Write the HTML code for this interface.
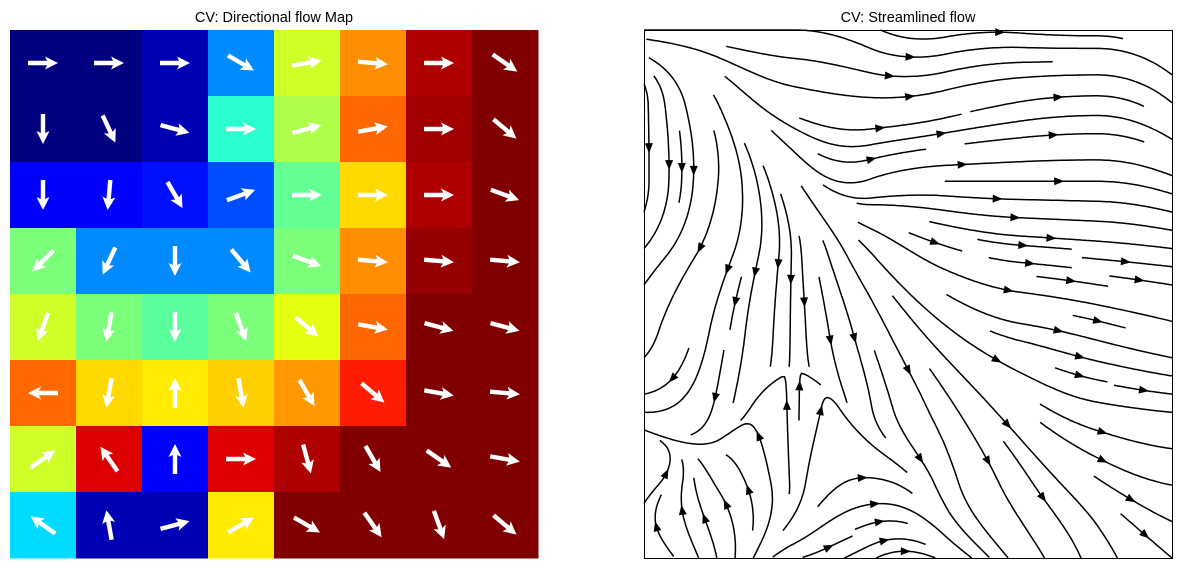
<!DOCTYPE html>
<html><head><meta charset="utf-8"><style>
body{margin:0;background:#fff;width:1182px;height:573px;overflow:hidden;font-family:"Liberation Sans",sans-serif}
svg{position:absolute;left:0;top:0}
</style></head><body>
<svg id="chart" width="1182" height="573">
<text x="274" y="22" text-anchor="middle" font-size="14.5" font-family="Liberation Sans, sans-serif">CV: Directional flow Map</text>
<text x="908" y="22" text-anchor="middle" font-size="14.5" font-family="Liberation Sans, sans-serif">CV: Streamlined flow</text>
<g id="heat"></g>
<g id="stream"></g>
<rect x="644.5" y="30.5" width="528" height="528" fill="none" stroke="#000" stroke-width="1"/>
</svg>
<script>
// cell magnitude values (matplotlib jet 0..1), rows top to bottom
const magnitudes = [
 [0.00,0.00,0.045,0.26,0.60,0.76,0.96,1.00],
 [0.00,0.00,0.045,0.40,0.56,0.80,0.97,1.00],
 [0.11,0.11,0.14,0.20,0.47,0.68,0.96,1.00],
 [0.50,0.26,0.26,0.26,0.50,0.76,0.98,1.00],
 [0.60,0.50,0.46,0.50,0.63,0.80,1.00,1.00],
 [0.80,0.68,0.66,0.69,0.75,0.88,1.00,1.00],
 [0.60,0.92,0.11,0.92,0.96,1.00,1.00,1.00],
 [0.34,0.045,0.045,0.66,1.00,1.00,1.00,1.00]
];
// flow direction in degrees (0 = right, 90 = up)
const angles = [
 [0,0,0,-30,10,-5,0,-35],
 [-90,-65,-15,0,15,10,0,-40],
 [-90,-95,-60,20,0,0,0,-20],
 [-135,-115,-90,-50,-20,-5,-5,-5],
 [-110,-100,-90,-70,-40,-10,-15,-15],
 [180,-100,90,-80,-60,-40,-10,-5],
 [35,125,90,0,-75,-60,-35,-10],
 [145,100,15,30,-30,-55,-70,-40]
];
const NS='http://www.w3.org/2000/svg';
function seg(t,pts){for(let i=1;i<pts.length;i++){if(t<=pts[i][0]){const [a,va]=pts[i-1],[b,vb]=pts[i];return va+(vb-va)*(t-a)/(b-a);}}return pts[pts.length-1][1];}
function jet(t){
  const r=seg(t,[[0,0],[0.35,0],[0.66,1],[0.89,1],[1,0.5]]);
  const g=seg(t,[[0,0],[0.125,0],[0.375,1],[0.64,1],[0.91,0],[1,0]]);
  const b=seg(t,[[0,0.5],[0.11,1],[0.34,1],[0.65,0],[1,0]]);
  return `rgb(${Math.round(r*255)},${Math.round(g*255)},${Math.round(b*255)})`;
}
const heat=document.getElementById('heat');
const L=10,T=30,C=66;
for(let r=0;r<8;r++)for(let c=0;c<8;c++){
  const rect=document.createElementNS(NS,'rect');
  rect.setAttribute('x',L+c*C);rect.setAttribute('y',T+r*C);
  rect.setAttribute('width',C+0.5);rect.setAttribute('height',C+0.5);
  rect.setAttribute('fill',jet(magnitudes[r][c]));
  
  
  heat.appendChild(rect);
}
for(let r=0;r<8;r++)for(let c=0;c<8;c++){
  const cx=L+c*C+C/2, cy=T+r*C+C/2;
  const a=-angles[r][c];
  const p=document.createElementNS(NS,'polygon');
  p.setAttribute('points','-15,-2.2 4,-2.2 2,-6.5 15,0 2,6.5 4,2.2 -15,2.2');
  p.setAttribute('fill','#fff');
  p.setAttribute('transform',`translate(${cx},${cy}) rotate(${a})`);
  
  
  heat.appendChild(p);
}
// streamplot
const SX=644,SY=30,SW=528;
function field(x,y){
  x=Math.max(0,Math.min(7,x));y=Math.max(0,Math.min(7,y));
  const i=Math.min(6,Math.floor(x)),j=Math.min(6,Math.floor(y));
  const fx=x-i,fy=y-j;
  let u=0,v=0;
  const w=[[j,i,(1-fx)*(1-fy)],[j,i+1,fx*(1-fy)],[j+1,i,(1-fx)*fy],[j+1,i+1,fx*fy]];
  for(const [rr,cc,ww] of w){const a=angles[rr][cc]*Math.PI/180;u+=ww*Math.cos(a);v+=ww*(-Math.sin(a));}
  return [u,v];
}
const M=30;
const mask=[];for(let i=0;i<M;i++)mask.push(new Array(M).fill(0));
const mc=v=>Math.round(v/7*(M-1));
let trajId=0;
function integ(x0,y0,dir,cells){
  const pts=[];let x=x0,y=y0,len=0;const ds=0.03;
  let cx=mc(x),cy=mc(y);
  while(len<4*7){
    const [u1,v1]=field(x,y);let s1=Math.hypot(u1,v1);if(s1<1e-3)break;
    const xm=x+dir*u1/s1*ds/2,ym=y+dir*v1/s1*ds/2;
    const [u2,v2]=field(xm,ym);let s2=Math.hypot(u2,v2);if(s2<1e-3)break;
    const nx=x+dir*u2/s2*ds,ny=y+dir*v2/s2*ds;
    if(nx<0||nx>7||ny<0||ny>7)break;
    const ncx=mc(nx),ncy=mc(ny);
    if(ncx!==cx||ncy!==cy){
      if(mask[ncy][ncx]!==0)break;
      mask[ncy][ncx]=trajId;cells.push([ncy,ncx]);cx=ncx;cy=ncy;
    }
    x=nx;y=ny;len+=ds;pts.push([x,y]);
  }
  return pts;
}
const seeds=[];
{let xf=0,yf=0,xl=M-1,yl=M-1,x=0,y=0,d='right';
 for(let k=0;k<M*M;k++){seeds.push([x,y]);
  if(d==='right'){x++;if(x>=xl){xl--;d='up';}}
  else if(d==='up'){y++;if(y>=yl){yl--;d='left';}}
  else if(d==='left'){x--;if(x<=xf){xf++;d='down';}}
  else {y--;if(y<=yf){yf++;d='right';}}
 }}
const stream=document.getElementById('stream');
const px=x=>SX+x/7*SW, py=y=>SY+y/7*SW;
for(const [mx,my] of seeds){
  if(mask[my][mx]!==0)continue;
  trajId++;
  const x0=mx/(M-1)*7,y0=my/(M-1)*7;
  mask[my][mx]=trajId;const cells=[[my,mx]];
  const b=integ(x0,y0,-1,cells),f=integ(x0,y0,1,cells);
  const pts=b.reverse().concat([[x0,y0]],f);
  let tot=0;for(let i=1;i<pts.length;i++)tot+=Math.hypot(pts[i][0]-pts[i-1][0],pts[i][1]-pts[i-1][1]);
  if(tot<0.7){for(const [a,c] of cells)mask[a][c]=0;continue;}
  const path=document.createElementNS(NS,'path');
  path.setAttribute('d','M'+pts.map(p=>px(p[0]).toFixed(1)+','+py(p[1]).toFixed(1)).join('L'));
  path.setAttribute('fill','none');path.setAttribute('stroke','#000');path.setAttribute('stroke-width','1.5');
  
  
  stream.appendChild(path);
  let acc=0,k=1;for(;k<pts.length;k++){acc+=Math.hypot(pts[k][0]-pts[k-1][0],pts[k][1]-pts[k-1][1]);if(acc>=tot/2)break;}
  k=Math.min(k,pts.length-1);
  const ax=px(pts[k][0]),ay=py(pts[k][1]);
  const ang=Math.atan2(py(pts[k][1])-py(pts[k-1][1]),px(pts[k][0])-px(pts[k-1][0]))*180/Math.PI;
  const tri=document.createElementNS(NS,'polygon');
  tri.setAttribute('points','-6,-4 4,0 -6,4');
  tri.setAttribute('transform',`translate(${ax.toFixed(1)},${ay.toFixed(1)}) rotate(${ang.toFixed(1)})`);
  tri.setAttribute('fill','#000');
  
  
  stream.appendChild(tri);
}
</script>
</body></html>
